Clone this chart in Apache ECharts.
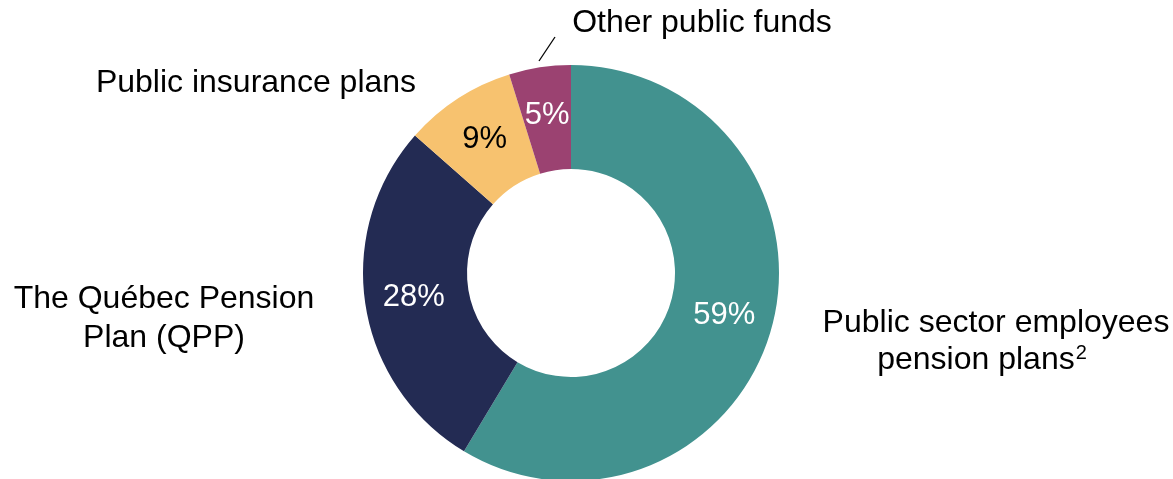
<!DOCTYPE html>
<html>
<head>
<meta charset="utf-8">
<script src="https://cdn.jsdelivr.net/npm/echarts@6/dist/echarts.min.js"></script>
<style>html,body{margin:0;padding:0;background:#fff}#c{width:1173px;height:479px}</style>
</head>
<body>
<div id="c"></div>
<script>
var categories = ['Public sector employees pension plans', 'The Québec Pension Plan (QPP)', 'Public insurance plans', 'Other public funds'];
var values = [58.6, 27.9, 8.7, 4.8];
var pctLabels = ['59%', '28%', '9%', '5%'];
var colors = ['#42928F', '#232B53', '#F7C26F', '#9B4271'];
var labelColors = ['#ffffff', '#ffffff', '#000000', '#ffffff'];

var FONT = '"Liberation Sans", Arial, sans-serif';
var chart = echarts.init(document.getElementById('c'));

var data = categories.map(function (c, i) {
  return {
    name: c,
    value: values[i],
    itemStyle: { color: colors[i] },
    label: { formatter: pctLabels[i], color: labelColors[i] }
  };
});

var textStyle = { fontFamily: FONT, fontSize: 32, fill: '#000' };
function txt(x, y, t, extra) {
  var s = Object.assign({ text: t, x: x, y: y, textAlign: 'center', textVerticalAlign: 'middle' }, textStyle, extra || {});
  return { type: 'text', style: s, silent: true };
}

chart.setOption({
  animation: false,
  series: [{
    type: 'pie',
    center: [571, 273],
    radius: [104, 208],
    startAngle: 90,
    clockwise: true,
    label: { show: true, position: 'inside', fontFamily: FONT, fontSize: 31 },
    labelLine: { show: false },
    emphasis: { disabled: true },
    data: data
  }],
  graphic: [
    txt(702, 23, 'Other public funds'),
    txt(256, 83, 'Public insurance plans'),
    txt(164, 299, 'The Québec Pension'),
    txt(164, 338, 'Plan (QPP)'),
    txt(996, 323, 'Public sector employees'),
    {
      type: 'text', silent: true,
      style: {
        text: '{a|pension plans}{b|2}', x: 982, y: 360, textAlign: 'center', textVerticalAlign: 'middle',
        rich: {
          a: { fontFamily: FONT, fontSize: 32, fill: '#000', color: '#000' },
          b: { fontFamily: FONT, fontSize: 20, fill: '#000', color: '#000', verticalAlign: 'top', padding: [0, 0, 14, 1] }
        }
      }
    },
    { type: 'line', silent: true, shape: { x1: 539, y1: 61, x2: 555, y2: 37 }, style: { stroke: '#000', lineWidth: 1.3 } }
  ]
});
</script>
</body>
</html>
